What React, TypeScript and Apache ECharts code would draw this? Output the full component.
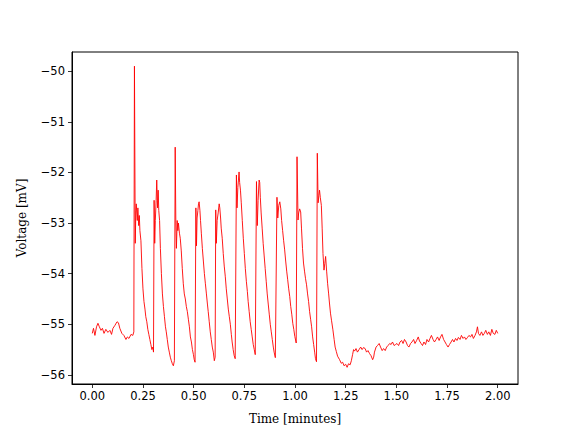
import React, { useEffect, useRef } from "react";
import * as echarts from "echarts";

// Time in minutes and voltage in mV
const times: number[] = [
  0.000, 0.006, 0.013, 0.021, 0.028, 0.035, 0.043, 0.050, 0.058, 0.067, 0.077, 0.087, 0.095, 0.102, 0.112, 0.122, 0.129, 0.136, 0.146, 0.156, 0.166, 0.173, 0.181, 0.191, 0.200, 0.205,
  0.208, 0.212, 0.215, 0.217, 0.222, 0.225, 0.229, 0.232, 0.235, 0.240, 0.245, 0.250, 0.255, 0.260, 0.264, 0.269, 0.274, 0.279, 0.284, 0.289, 0.294, 0.299, 0.302,
  0.305, 0.308, 0.311, 0.315, 0.318, 0.322, 0.325, 0.328, 0.332, 0.336, 0.341, 0.346, 0.351, 0.356, 0.361, 0.365, 0.370, 0.375, 0.380, 0.385, 0.390, 0.395, 0.400, 0.405,
  0.409, 0.412, 0.415, 0.419, 0.422, 0.425, 0.430, 0.434, 0.439, 0.444, 0.449, 0.454, 0.459, 0.464, 0.469, 0.474, 0.479, 0.484, 0.489, 0.494, 0.499, 0.503, 0.507,
  0.511, 0.514, 0.517, 0.521, 0.524, 0.527, 0.531, 0.534, 0.538, 0.543, 0.548, 0.553, 0.558, 0.563, 0.568, 0.572, 0.577, 0.582, 0.587, 0.592, 0.597, 0.602, 0.606,
  0.609, 0.612, 0.616, 0.621, 0.626, 0.629, 0.633, 0.636, 0.641, 0.646, 0.651, 0.656, 0.661, 0.666, 0.671, 0.676, 0.681, 0.686, 0.690, 0.695, 0.700, 0.705,
  0.711, 0.714, 0.718, 0.721, 0.724, 0.727, 0.731, 0.735, 0.740, 0.745, 0.750, 0.755, 0.760, 0.765, 0.769, 0.774, 0.779, 0.784, 0.789, 0.794, 0.799, 0.804,
  0.810, 0.814, 0.818, 0.823, 0.826, 0.829, 0.833, 0.838, 0.843, 0.848, 0.853, 0.858, 0.863, 0.868, 0.873, 0.878, 0.883, 0.888, 0.893, 0.897, 0.903,
  0.911, 0.915, 0.920, 0.925, 0.930, 0.934, 0.939, 0.944, 0.949, 0.954, 0.959, 0.964, 0.969, 0.974, 0.979, 0.984, 0.989, 0.994, 0.999, 1.006,
  1.010, 1.015, 1.018, 1.023, 1.028, 1.032, 1.037, 1.042, 1.047, 1.052, 1.057, 1.062, 1.067, 1.072, 1.077, 1.082, 1.087, 1.092, 1.097, 1.101, 1.106,
  1.110, 1.114, 1.118, 1.121, 1.125, 1.130, 1.134, 1.138, 1.143, 1.147, 1.151, 1.156, 1.161, 1.166, 1.170, 1.175, 1.180, 1.187, 1.193, 1.198, 1.204, 1.210,
  1.220, 1.228, 1.235, 1.242, 1.250, 1.257, 1.264, 1.272, 1.278, 1.284, 1.289, 1.294, 1.301, 1.308, 1.316, 1.324, 1.331, 1.338, 1.346, 1.353, 1.360, 1.368,
  1.375, 1.383, 1.388, 1.392, 1.400, 1.407, 1.415, 1.422, 1.430, 1.437, 1.445, 1.452, 1.459, 1.467, 1.474, 1.481, 1.489, 1.496, 1.503, 1.511, 1.518, 1.526,
  1.533, 1.540, 1.548, 1.555, 1.562, 1.570, 1.577, 1.585, 1.592, 1.600, 1.608, 1.614, 1.622, 1.629, 1.636, 1.644, 1.651, 1.659, 1.666, 1.673, 1.681, 1.688,
  1.696, 1.703, 1.711, 1.718, 1.725, 1.733, 1.740, 1.747, 1.755, 1.762, 1.770, 1.777, 1.784, 1.792, 1.799, 1.806, 1.814, 1.821, 1.829, 1.836, 1.843, 1.851,
  1.858, 1.866, 1.873, 1.880, 1.888, 1.895, 1.900, 1.905, 1.912, 1.920, 1.927, 1.934, 1.941, 1.949, 1.956, 1.964, 1.971, 1.978, 1.986, 1.993, 2.000,
];

const voltages: number[] = [
  -55.18, -55.08, -55.22, -55.05, -54.98, -55.05, -55.12, -55.08, -55.18, -55.10, -55.16, -55.12, -55.20, -55.08, -55.02, -54.95, -54.97, -55.08, -55.18, -55.22, -55.30, -55.25, -55.28, -55.20, -55.22, -55.15,
  -49.90, -53.40, -52.75, -52.62, -52.95, -52.70, -53.05, -52.85, -53.15, -53.35, -53.90, -54.30, -54.55, -54.70, -54.85, -54.95, -55.10, -55.20, -55.30, -55.40, -55.50, -55.45, -55.55,
  -52.55, -53.40, -52.95, -52.55, -52.15, -52.70, -52.35, -52.75, -52.95, -53.50, -54.00, -54.40, -54.65, -54.85, -55.05, -55.15, -55.30, -55.45, -55.55, -55.65, -55.72, -55.78, -55.82, -55.72,
  -51.50, -52.90, -53.50, -52.95, -53.15, -53.00, -53.20, -53.30, -53.55, -53.90, -54.20, -54.40, -54.50, -54.65, -54.75, -54.90, -55.05, -55.25, -55.35, -55.50, -55.60, -55.70, -55.75,
  -52.70, -53.45, -52.90, -52.75, -52.62, -52.58, -52.75, -52.95, -53.20, -53.50, -53.75, -54.00, -54.20, -54.40, -54.60, -54.75, -54.95, -55.15, -55.30, -55.45, -55.55, -55.72, -55.65,
  -52.74, -53.40, -52.95, -52.80, -52.62, -52.70, -52.90, -53.10, -53.30, -53.60, -53.85, -54.05, -54.30, -54.50, -54.70, -54.85, -55.00, -55.20, -55.35, -55.50, -55.62, -55.68,
  -52.05, -52.70, -52.30, -52.15, -51.99, -52.20, -52.35, -52.60, -52.95, -53.30, -53.60, -53.90, -54.15, -54.35, -54.55, -54.75, -54.95, -55.10, -55.25, -55.40, -55.50, -55.60,
  -52.18, -53.05, -52.55, -52.15, -52.20, -52.50, -52.80, -53.10, -53.40, -53.65, -53.90, -54.15, -54.40, -54.60, -54.80, -55.00, -55.15, -55.30, -55.45, -55.55, -55.66,
  -52.49, -52.90, -52.65, -52.58, -52.72, -52.95, -53.15, -53.35, -53.53, -53.75, -53.95, -54.12, -54.30, -54.45, -54.65, -54.80, -54.98, -55.10, -55.24, -55.37,
  -51.69, -52.94, -52.80, -52.72, -52.78, -53.10, -53.50, -53.79, -53.95, -54.10, -54.22, -54.40, -54.55, -54.75, -54.90, -55.05, -55.25, -55.40, -55.55, -55.68, -55.74,
  -51.62, -52.60, -52.45, -52.35, -52.50, -52.65, -53.10, -53.60, -53.93, -53.80, -53.66, -53.95, -54.20, -54.40, -54.58, -54.78, -54.92, -55.11, -55.30, -55.45, -55.54, -55.63,
  -55.70, -55.77, -55.75, -55.82, -55.79, -55.85, -55.78, -55.80, -55.72, -55.60, -55.50, -55.53, -55.48, -55.55, -55.50, -55.45, -55.50, -55.46, -55.48, -55.55, -55.52, -55.58,
  -55.62, -55.70, -55.65, -55.55, -55.45, -55.42, -55.38, -55.45, -55.52, -55.48, -55.52, -55.45, -55.42, -55.38, -55.40, -55.35, -55.42, -55.40, -55.38, -55.42, -55.35, -55.32,
  -55.38, -55.30, -55.35, -55.42, -55.45, -55.38, -55.35, -55.30, -55.38, -55.32, -55.25, -55.33, -55.38, -55.42, -55.35, -55.40, -55.30, -55.35, -55.28, -55.22, -55.30, -55.35,
  -55.30, -55.25, -55.32, -55.25, -55.20, -55.30, -55.35, -55.40, -55.45, -55.40, -55.35, -55.30, -55.35, -55.28, -55.32, -55.26, -55.30, -55.22, -55.28, -55.25, -55.30, -55.26,
  -55.22, -55.25, -55.20, -55.28, -55.22, -55.15, -55.05, -55.18, -55.22, -55.15, -55.22, -55.18, -55.12, -55.20, -55.15, -55.22, -55.10, -55.18, -55.20, -55.12, -55.18,
];

const xTicks: number[] = [0, 0.25, 0.5, 0.75, 1.0, 1.25, 1.5, 1.75, 2.0];
const yTicks: number[] = [-56, -55, -54, -53, -52, -51, -50];

export default function App() {
  const ref = useRef<HTMLDivElement>(null);
  useEffect(() => {
    if (!ref.current) return;
    const chart = echarts.init(ref.current, null, { renderer: "svg" });
    const data = times.map((t, i) => [t, voltages[i]]);
    const tickFont = { fontFamily: "DejaVu Sans", fontSize: 11.5, color: "#000" };
    const nameFont = { fontFamily: "DejaVu Serif", fontSize: 12, color: "#000" };
    chart.setOption({
      animation: false,
      backgroundColor: "#fff",
      grid: {
        left: 72,
        right: 58,
        top: 52,
        bottom: 48,
        show: true,
        borderColor: "#000",
        borderWidth: 1,
        backgroundColor: "transparent",
      },
      xAxis: {
        type: "value",
        min: -0.1,
        max: 2.1,
        name: "Time [minutes]",
        nameLocation: "middle",
        nameGap: 28.5,
        nameTextStyle: nameFont,
        axisLine: { show: true, onZero: false, lineStyle: { color: "#000", width: 1 } },
        axisTick: { show: true, length: 4, customValues: xTicks, lineStyle: { color: "#000", width: 0.8 } },
        axisLabel: {
          ...tickFont,
          margin: 6,
          customValues: xTicks,
          formatter: (v: number) => v.toFixed(2),
        },
        splitLine: { show: false },
      },
      yAxis: {
        type: "value",
        min: -56.18,
        max: -49.62,
        name: "Voltage [mV]",
        nameLocation: "middle",
        nameGap: 44,
        nameRotate: 90,
        nameTextStyle: nameFont,
        axisLine: { show: true, onZero: false, lineStyle: { color: "#000", width: 1 } },
        axisTick: { show: true, length: 4, customValues: yTicks, lineStyle: { color: "#000", width: 0.8 } },
        axisLabel: {
          ...tickFont,
          margin: 7,
          customValues: yTicks,
          formatter: (v: number) => String(Math.round(v)).replace("-", "\u2212"),
        },
        splitLine: { show: false },
      },
      series: [
        {
          type: "line",
          data,
          showSymbol: false,
          symbol: "none",
          lineStyle: { color: "#ff0000", width: 0.9 },
          itemStyle: { color: "#ff0000" },
        },
      ],
    });
    return () => chart.dispose();
  }, []);
  return <div ref={ref} style={{ width: 576, height: 432, position: "absolute", left: 0, top: 0 }} />;
}
